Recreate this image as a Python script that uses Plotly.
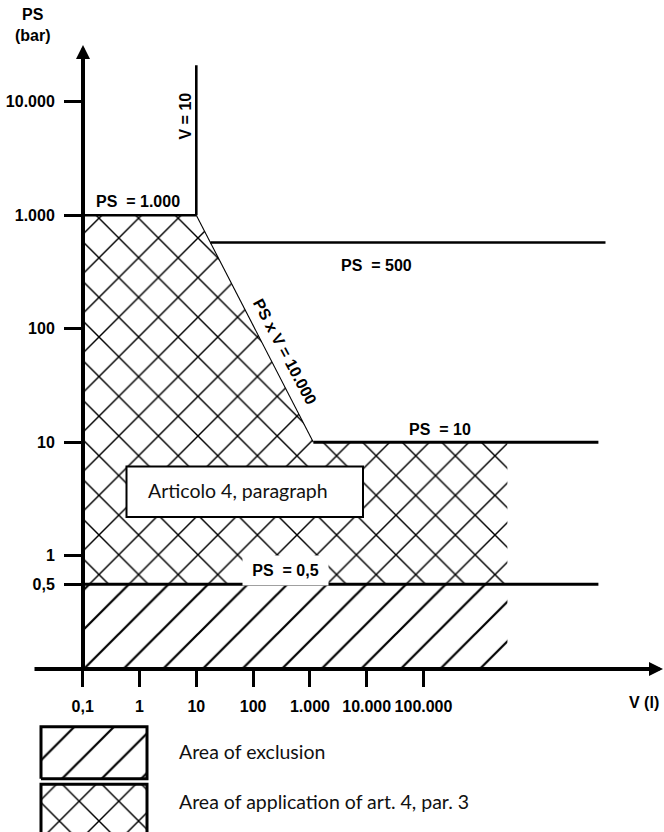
import numpy as np
import plotly.graph_objects as go

W, H = 664, 832

# ---------------- data ----------------
y_tick_vals = [0.56, 1, 10, 100, 1000, 10000]
y_tick_text = ["0,5", "1", "10", "100", "1.000", "10.000"]
x_tick_vals = [0.1, 1, 10, 100, 1000, 10000, 100000]
x_tick_text = ["0,1", "1", "10", "100", "1.000", "10.000", "100.000"]

# boundary lines (V in litres, PS in bar), as drawn in the picture
ps1000_v, ps1000_ps = [0.1, 10], [1000, 1000]
v10_v, v10_ps = [10, 10], [1000, 21000]
pv_v, pv_ps = [10, 1150], [1000, 10]
ps500_v, ps500_ps = [17.7, 1.6e8], [575, 575]
ps10_v, ps10_ps = [1150, 1.2e8], [10, 10]
ps05_v, ps05_ps = [0.1, 1.2e8], [0.56, 0.56]

# hatched areas
art4_v = [0.1, 0.1, 10, 1150, 3e6, 3e6, 0.1]
art4_ps = [0.56, 1000, 1000, 10, 10, 0.56, 0.56]
excl_v = [0.1, 0.1, 3e6, 3e6, 0.1]
excl_ps = [0.09, 0.56, 0.56, 0.09, 0.09]

legend_labels = ["Area of exclusion", "Area of application of art. 4, par. 3"]
legend_shapes = ["/", "x"]

# ---------------- layout geometry ----------------
X_ORIGIN_PX, X_DEC_PX = 82.7, 56.8     # pixel of V=0.1, pixels per decade
Y_ONE_PX, Y_DEC_PX = 555.7, 113.5      # pixel of PS=1, pixels per decade
Y_TOP_PX, Y_BOT_PX = 40, 670.5

def px(x):
    return x / W

def py(y):
    return 1 - y / H

xr = [-1 - X_ORIGIN_PX / X_DEC_PX, -1 + (W - X_ORIGIN_PX) / X_DEC_PX]
yr = [(Y_ONE_PX - Y_BOT_PX) / Y_DEC_PX, (Y_ONE_PX - Y_TOP_PX) / Y_DEC_PX]

BOLD = dict(family="Liberation Sans", size=16, color="black", weight="bold")
PLAIN = dict(family="Lato", size=19.5, color="#111111")

fig = go.Figure()

hatch_x = dict(shape="x", size=28, solidity=0.1, fgcolor="black", bgcolor="white",
               fgopacity=1)
hatch_d = dict(shape="/", size=28, solidity=0.08, fgcolor="black", bgcolor="white",
               fgopacity=1)

fig.add_trace(go.Scatter(x=excl_v, y=excl_ps, mode="lines", fill="toself",
                         fillpattern=hatch_d, fillcolor="white",
                         line=dict(width=0, color="white"),
                         hoverinfo="skip", showlegend=False))
fig.add_trace(go.Scatter(x=art4_v, y=art4_ps, mode="lines", fill="toself",
                         fillpattern=hatch_x, fillcolor="white",
                         line=dict(width=0, color="white"),
                         hoverinfo="skip", showlegend=False))

for xs, ys, w in [(ps1000_v, ps1000_ps, 2.6), (v10_v, v10_ps, 2.6), (pv_v, pv_ps, 1.1),
                  (ps500_v, ps500_ps, 2.6), (ps10_v, ps10_ps, 3), (ps05_v, ps05_ps, 3)]:
    fig.add_trace(go.Scatter(x=xs, y=ys, mode="lines", line=dict(color="black", width=w),
                             hoverinfo="skip", showlegend=False))

# legend swatches on a secondary (pixel-like) axis: value = 832 - pixel row
for i, (lab, shp) in enumerate(zip(legend_labels, legend_shapes)):
    top = 105.3 - i * 57.6
    bot = top - 52 if i == 0 else -4
    pat = hatch_d if shp == "/" else hatch_x
    fig.add_trace(go.Scatter(x=[41, 41, 147, 147, 41], y=[bot, top, top, bot, bot],
                             mode="lines", fill="toself", fillpattern=pat,
                             fillcolor="white",
                             line=dict(color="black", width=3),
                             xaxis="x2", yaxis="y2", hoverinfo="skip", showlegend=False))
    fig.add_annotation(x=177, y=80.3 - i * 50, xref="x2", yref="y2", text=lab,
                       showarrow=False, xanchor="left", yanchor="middle", font=PLAIN)

annots = []
# axes arrows
annots.append(dict(x=px(666), y=py(669), xref="paper", yref="paper", text="",
                   showarrow=True, ax=-(666 - 33), ay=0, arrowhead=2, arrowsize=0.7,
                   arrowwidth=4, arrowcolor="black"))
annots.append(dict(x=px(83), y=py(45), xref="paper", yref="paper", text="",
                   showarrow=True, ax=0, ay=669 - 45, arrowhead=2, arrowsize=0.7,
                   arrowwidth=4, arrowcolor="black"))

labels = [
    ("PS<br>(bar)", 33, 25.5, 0, None),
    ("V (l)", 644, 702, 0, None),
    ("V = 10", 185, 116.5, -90, None),
    ("PS  = 1.000", 138, 201.5, 0, None),
    ("PS  = 500", 377, 265, 0, None),
    ("PS x V = 10.000", 285, 351, 62, None),
    ("PS  = 10", 440, 429, 0, None),
]
for txt, x, y, ang, bg in labels:
    annots.append(dict(x=px(x), y=py(y), xref="paper", yref="paper", text=txt,
                       showarrow=False, textangle=ang, font=BOLD,
                       xanchor="center", yanchor="middle"))

annots.append(dict(x=px(285.5), y=py(570), xref="paper", yref="paper", text="PS  = 0,5",
                   showarrow=False, font=BOLD, xanchor="center", yanchor="middle",
                   bgcolor="white", width=81, height=25, borderpad=2))

annots.append(dict(x=px(237.5), y=py(490), xref="paper", yref="paper",
                   text="Articolo 4, paragraph", showarrow=False, font=PLAIN,
                   xanchor="center", yanchor="middle"))

shapes = [dict(type="rect", xref="paper", yref="paper", x0=px(126.5), x1=px(363),
               y0=py(517), y1=py(466.5), line=dict(color="black", width=2),
               fillcolor="white", layer="above")]

fig.update_layout(
    width=W, height=H, margin=dict(l=0, r=0, t=0, b=0),
    paper_bgcolor="white", plot_bgcolor="rgba(0,0,0,0)",
    xaxis=dict(type="log", range=xr, domain=[0, 1], anchor="free", position=py(669),
               showgrid=False, zeroline=False, showline=False,
               ticks="outside", ticklen=17, tickwidth=2.5, tickcolor="black",
               ticklabelstandoff=6,
               tickvals=x_tick_vals, ticktext=x_tick_text, tickfont=BOLD),
    yaxis=dict(type="log", range=yr, domain=[py(Y_BOT_PX), py(Y_TOP_PX)], anchor="free",
               position=px(83), showgrid=False, zeroline=False, showline=False,
               ticks="outside", ticklen=19, tickwidth=2.5, tickcolor="black",
               ticklabelstandoff=6,
               tickvals=y_tick_vals, ticktext=y_tick_text, tickfont=BOLD),
    xaxis2=dict(range=[0, W], domain=[0, 1], anchor="y2", visible=False),
    yaxis2=dict(range=[0, 110], domain=[0, 110 / H], anchor="x2", visible=False),
    annotations=list(fig.layout.annotations) + annots,
    shapes=shapes,
)

fig.write_html("out.html", config={"displayModeBar": False},
               post_script="document.body.style.margin='0px';")
